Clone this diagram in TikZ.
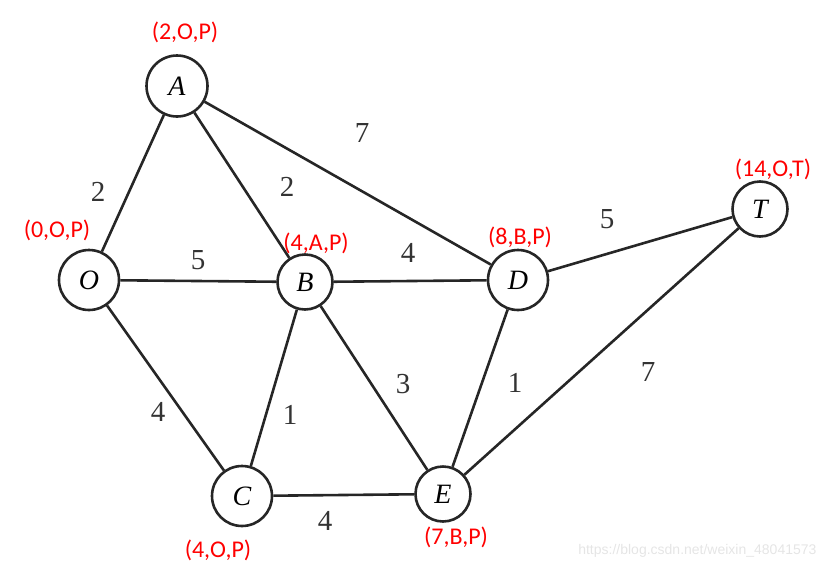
\documentclass[tikz,border=0pt]{standalone}
\usepackage{fontspec}
\setmainfont{Liberation Serif}
\newfontfamily\labelfont{Carlito}
\newfontfamily\markfont{Liberation Sans}
\begin{document}
\begin{tikzpicture}[x=1pt,y=-1pt,
    vertex/.style={circle,draw,line width=2.6pt,inner sep=0pt,black!85,
      text=black,font=\fontsize{28}{30}\selectfont\itshape},
    weight/.style={font=\fontsize{29}{31}\selectfont,text=black!80},
    tag/.style={font=\labelfont\fontsize{24}{26}\selectfont,text=red},
    edge/.style={line width=2.6pt,black!85}]
  \useasboundingbox (0,0) rectangle (830,568);
  % vertices
  \node[vertex,minimum size=61pt] (A) at (177,86) {A};
  \node[vertex,minimum size=60pt] (O) at (89,280) {O};
  \node[vertex,minimum size=55pt] (B) at (305,282) {B};
  \node[vertex,minimum size=60pt] (D) at (518,280) {D};
  \node[vertex,minimum size=55pt] (T) at (760,209) {T};
  \node[vertex,minimum size=60pt] (C) at (242,496) {C};
  \node[vertex,minimum size=55pt] (E) at (443,494) {E};
  % edges
  \draw[edge] (A) -- (O);
  \draw[edge] (A) -- (B);
  \draw[edge] (A) -- (D);
  \draw[edge] (O) -- (B);
  \draw[edge] (B) -- (D);
  \draw[edge] (D) -- (T);
  \draw[edge] (O) -- (C);
  \draw[edge] (B) -- (C);
  \draw[edge] (B) -- (E);
  \draw[edge] (D) -- (E);
  \draw[edge] (T) -- (E);
  \draw[edge] (C) -- (E);
  % weights
  \node[weight] (w-ao) at (98,192) {2};
  \node[weight] (w-ab) at (287,187) {2};
  \node[weight] (w-ad) at (362,133) {7};
  \node[weight] (w-ob) at (198,260) {5};
  \node[weight] (w-bd) at (408,253) {4};
  \node[weight] (w-dt) at (607,219) {5};
  \node[weight] (w-oc) at (158,412) {4};
  \node[weight] (w-bc) at (290,415) {1};
  \node[weight] (w-be) at (403,384) {3};
  \node[weight] (w-de) at (515,383) {1};
  \node[weight] (w-te) at (648,372) {7};
  \node[weight] (w-ce) at (325,521) {4};
  % labels
  \node[tag] (t-A) at (185,32) {(2,O,P)};
  \node[tag] (t-O) at (57,230) {(0,O,P)};
  \node[tag] (t-B) at (316,243) {(4,A,P)};
  \node[tag] (t-D) at (520,237) {(8,B,P)};
  \node[tag] (t-T) at (773,169) {(14,O,T)};
  \node[tag] (t-C) at (218,550) {(4,O,P)};
  \node[tag] (t-E) at (456,537) {(7,B,P)};
  \node[font=\markfont\fontsize{14}{16}\selectfont,text=black!10,anchor=east]
    (mark) at (820,551) {https://blog.csdn.net/weixin\_48041573};
\end{tikzpicture}
\end{document}
